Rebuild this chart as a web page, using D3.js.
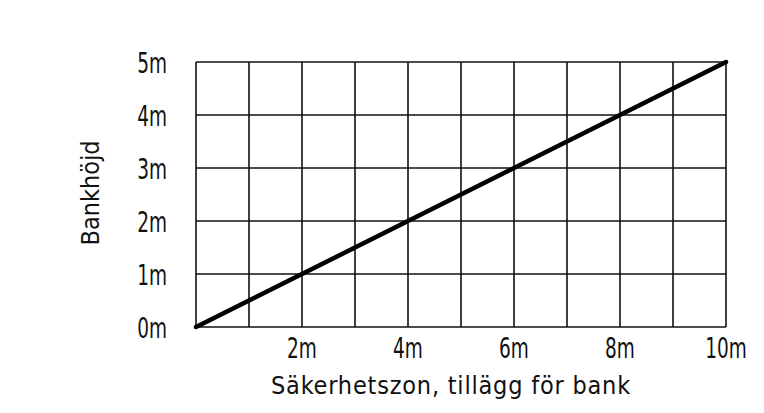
<!DOCTYPE html>
<html>
<head>
<meta charset="utf-8">
<script src="https://cdn.jsdelivr.net/npm/d3@7"></script>
<style>
  body { margin: 0; background: #fff; }
  text { font-family: "DejaVu Sans Condensed", "DejaVu Sans", sans-serif; fill: #111; }
</style>
</head>
<body>
<div id="plot"></div>
<script>
// data
const xGrid = [0, 1, 2, 3, 4, 5, 6, 7, 8, 9, 10];
const yGrid = [0, 1, 2, 3, 4, 5];
const xLabels = [2, 4, 6, 8, 10];
const yLabels = [0, 1, 2, 3, 4, 5];
const linePoints = [[0, 0], [10, 5]];
const xTitle = "Säkerhetszon, tillägg för bank";
const yTitle = "Bankhöjd";

const width = 764, height = 413;
const margin = {top: 62, right: 38, bottom: 86, left: 196};
const squeeze = 0.71; // narrow tick font

const svg = d3.select("#plot")
  .append("svg")
  .attr("width", width)
  .attr("height", height);

const x = d3.scaleLinear().domain([0, 10]).range([margin.left, width - margin.right]);
const y = d3.scaleLinear().domain([0, 5]).range([height - margin.bottom, margin.top]);

// grid
svg.append("g")
  .selectAll("line")
  .data(xGrid)
  .join("line")
    .attr("x1", d => x(d)).attr("x2", d => x(d))
    .attr("y1", y(0)).attr("y2", y(5))
    .attr("stroke", "#111")
    .attr("stroke-width", 1.6);

svg.append("g")
  .selectAll("line")
  .data(yGrid)
  .join("line")
    .attr("y1", d => y(d)).attr("y2", d => y(d))
    .attr("x1", x(0)).attr("x2", x(10))
    .attr("stroke", "#111")
    .attr("stroke-width", 1.6);

// line
svg.append("path")
  .datum(linePoints)
  .attr("fill", "none")
  .attr("stroke", "#000")
  .attr("stroke-width", 4.5)
  .attr("stroke-linecap", "round")
  .attr("d", d3.line().x(d => x(d[0])).y(d => y(d[1])));

// tick labels
svg.append("g")
  .selectAll("text")
  .data(yLabels)
  .join("text")
    .attr("transform", d => `translate(${x(0) - 29},${y(d) + 1}) scale(${squeeze},1)`)
    .attr("dy", "0.36em")
    .attr("text-anchor", "end")
    .style("font-size", "29px")
    .text(d => d + "m");

svg.append("g")
  .selectAll("text")
  .data(xLabels)
  .join("text")
    .attr("transform", d => `translate(${x(d)},${y(0) + 21}) scale(${squeeze},1)`)
    .attr("dy", "0.36em")
    .attr("text-anchor", "middle")
    .style("font-size", "29px")
    .text(d => d + "m");

// axis titles
svg.append("text")
  .attr("x", 451)
  .attr("y", 394)
  .attr("text-anchor", "middle")
  .style("font-size", "25px")
  .style("letter-spacing", "0.8px")
  .text(xTitle);

svg.append("text")
  .attr("transform", `translate(99,193) rotate(-90)`)
  .attr("text-anchor", "middle")
  .style("font-size", "25px")
  .text(yTitle);
</script>
</body>
</html>
